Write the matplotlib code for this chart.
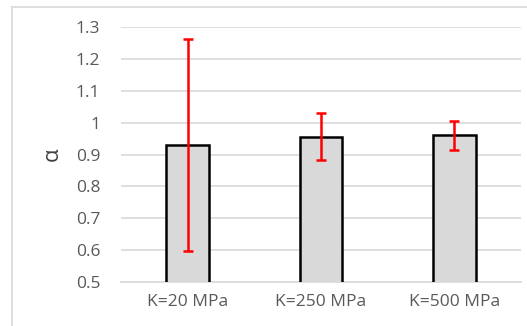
import matplotlib.pyplot as plt
from matplotlib.lines import Line2D

categories = ['K=20 MPa', 'K=250 MPa', 'K=500 MPa']
alpha_mean = [0.93, 0.956, 0.96]
alpha_err = [0.333, 0.074, 0.045]
yticks = [0.5, 0.6, 0.7, 0.8, 0.9, 1.0, 1.1, 1.2, 1.3]
ytick_labels = ['0.5', '0.6', '0.7', '0.8', '0.9', '1', '1.1', '1.2', '1.3']

plt.rcParams['font.family'] = ['Open Sans', 'DejaVu Sans']

fig = plt.figure(figsize=(5.27, 3.26), dpi=100)
ax = fig.add_axes([0.2296, 0.135, 0.759, 0.782])

x = range(len(categories))
ax.bar(x, alpha_mean, width=0.32, bottom=0, color='#d9d9d9',
       edgecolor='black', linewidth=1.8, zorder=3)
ax.errorbar(x, alpha_mean, yerr=alpha_err, fmt='none', ecolor='#ff0000',
            elinewidth=1.8, capsize=3.3, capthick=1.8, zorder=4)

ax.set_xlim(-0.5, 2.5)
ax.set_ylim(0.5, 1.3)
ax.set_yticks(yticks)
ax.set_yticklabels(ytick_labels)
ax.set_xticks(list(x))
ax.set_xticklabels(categories)
ax.tick_params(axis='both', length=0, labelsize=12.5, colors='#595959')
ax.tick_params(axis='y', pad=15)
ax.tick_params(axis='x', pad=9)
ax.grid(axis='y', color='#d9d9d9', linewidth=1.2, zorder=0)
for s in ['top', 'right', 'left']:
    ax.spines[s].set_visible(False)
ax.spines['bottom'].set_color('#d9d9d9')
ax.spines['bottom'].set_linewidth(1.2)

ax.set_ylabel('α', fontsize=16, color='#404040', labelpad=9)

# outer chart frame (only top and left edges visible)
fig.add_artist(Line2D([12/527, 1], [1-7/326, 1-7/326], color='#d9d9d9', lw=1.2))
fig.add_artist(Line2D([12/527, 12/527], [0, 1-7/326], color='#d9d9d9', lw=1.2))

fig.savefig('out.png', dpi=100)
